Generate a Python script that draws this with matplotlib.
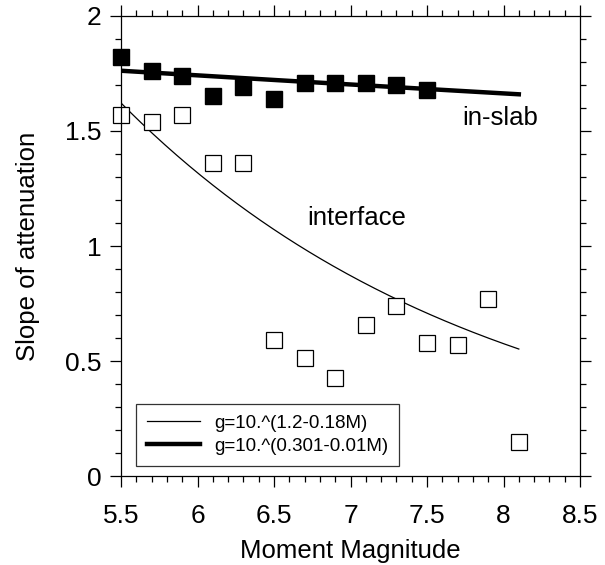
import numpy as np
import matplotlib
matplotlib.use("Agg")
import matplotlib.pyplot as plt
from matplotlib.ticker import MultipleLocator

# -----------------------------
# DATA
# -----------------------------
inslab_m = [5.5, 5.7, 5.9, 6.1, 6.3, 6.5, 6.7, 6.9, 7.1, 7.3, 7.5]
inslab_g = [1.82, 1.76, 1.74, 1.65, 1.69, 1.64, 1.71, 1.71, 1.71, 1.70, 1.68]

interface_m = [5.5, 5.7, 5.9, 6.1, 6.3, 6.5, 6.7, 6.9, 7.1, 7.3, 7.5, 7.7, 7.9, 8.1]
interface_g = [1.57, 1.54, 1.57, 1.36, 1.36, 0.59, 0.515, 0.425, 0.655, 0.74, 0.58, 0.57, 0.77, 0.15]

fit_range = (5.5, 8.1)
interface_fit = (1.2, 0.18)     # g = 10^(a - b*M)
inslab_fit = (0.301, 0.01)

plt.rcParams['font.family'] = ['Liberation Sans', 'DejaVu Sans']

fig = plt.figure(figsize=(6.05, 5.65), dpi=100)
ax = fig.add_axes([0.2, 0.1575, 0.7587, 0.8142])

m = np.linspace(fit_range[0], fit_range[1], 200)
ax.plot(m, 10 ** (interface_fit[0] - interface_fit[1] * m), color='black', lw=0.9,
        label="g=10.^(1.2-0.18M)")
ax.plot(m, 10 ** (inslab_fit[0] - inslab_fit[1] * m), color='black', lw=3.2,
        label="g=10.^(0.301-0.01M)")

ax.plot(interface_m, interface_g, 's', ms=11, mfc='white', mec='black', mew=0.9,
        ls='none', clip_on=False)
ax.plot(inslab_m, inslab_g, 's', ms=12, mfc='black', mec='black',
        ls='none', clip_on=False)

ax.text(7.98, 1.555, "in-slab", fontsize=18.5, ha='center', va='center')
ax.text(7.04, 1.12, "interface", fontsize=18.5, ha='center', va='center')

ax.set_xlim(5.5, 8.5)
ax.set_ylim(0, 2)
ax.xaxis.set_minor_locator(MultipleLocator(0.1))
ax.yaxis.set_minor_locator(MultipleLocator(0.1))
ax.set_xticks([5.5, 6, 6.5, 7, 7.5, 8, 8.5])
ax.set_xticklabels(["5.5", "6", "6.5", "7", "7.5", "8", "8.5"])
ax.set_yticks([0, 0.5, 1, 1.5, 2])
ax.set_yticklabels(["0", "0.5", "1", "1.5", "2"])
ax.tick_params(which='both', direction='out', top=True, right=True, labelsize=19, width=0.9)
ax.tick_params(which='major', length=8, pad=6)
ax.tick_params(axis='x', which='major', pad=12)
ax.tick_params(which='minor', length=4)
for s in ax.spines.values():
    s.set_linewidth(0.9)

ax.set_xlabel("Moment Magnitude", fontsize=18.5, labelpad=8)
ax.set_ylabel("Slope of attenuation", fontsize=18.5, labelpad=18)

leg = ax.legend(loc='lower left', bbox_to_anchor=(0.033, 0.022), fontsize=13.5,
                frameon=True, fancybox=False, edgecolor='black', handlelength=2.8,
                borderpad=0.6, handletextpad=0.75, labelspacing=0.3, borderaxespad=0)
leg.get_frame().set_linewidth(0.9)

fig.savefig("out.png", dpi=100)
